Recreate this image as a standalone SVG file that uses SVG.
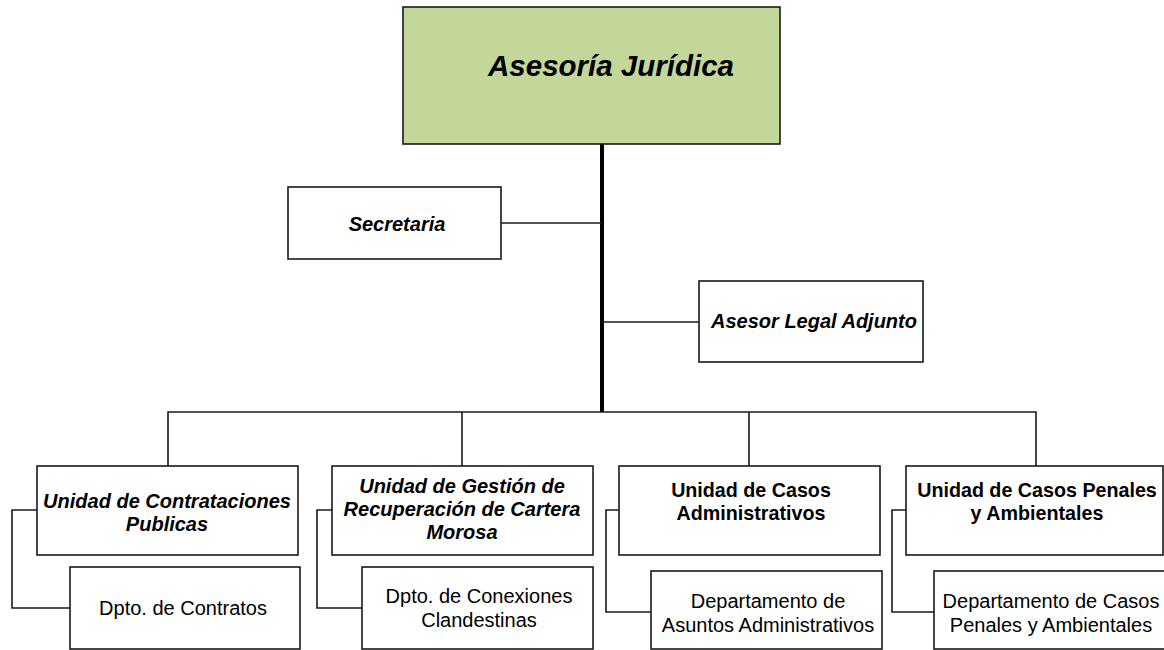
<svg xmlns="http://www.w3.org/2000/svg" width="1164" height="650" viewBox="0 0 1164 650">
<style>
.box{fill:#fff;stroke:#1a1a1a;stroke-width:1.6}
.top{fill:#c4d79b;stroke:#1a1a1a;stroke-width:1.6}
.ln{fill:none;stroke:#1a1a1a;stroke-width:1.6}
text{font-family:"Liberation Sans",Arial,sans-serif;fill:#000;text-anchor:middle}
.bi{font-weight:bold;font-style:italic;font-size:20px}
.b{font-weight:bold;font-size:19.7px}
.r{font-size:20px}
</style>
<rect width="1164" height="650" fill="#fff"/>
<g id="connectors">
<line x1="602" y1="144" x2="602" y2="412" stroke="#000" stroke-width="4"/>
<line class="ln" x1="501" y1="223" x2="602" y2="223"/>
<line class="ln" x1="602" y1="322" x2="699" y2="322"/>
<polyline class="ln" points="168,466 168,412 1036,412 1036,466"/>
<line class="ln" x1="462" y1="412" x2="462" y2="466"/>
<line class="ln" x1="749" y1="412" x2="749" y2="466"/>
<polyline class="ln" points="37,510 12,510 12,608 70,608"/>
<polyline class="ln" points="332,510 317,510 317,608 362,608"/>
<polyline class="ln" points="619,510 606,510 606,612 651,612"/>
<polyline class="ln" points="906,510 892,510 892,612 934,612"/>
</g>
<g id="asesoria">
<rect class="top" x="403" y="7" width="377" height="137"/>
<text class="bi" x="611" y="76" style="font-size:29.5px">Asesoría Jurídica</text>
</g>
<g id="secretaria">
<rect class="box" x="288" y="187" width="213" height="72"/>
<text class="bi" x="397" y="231">Secretaria</text>
</g>
<g id="asesor-legal">
<rect class="box" x="699" y="281" width="224" height="81"/>
<text class="bi" x="814" y="328">Asesor Legal Adjunto</text>
</g>
<g id="u-contrataciones">
<rect class="box" x="37" y="466" width="261" height="89"/>
<text class="bi" x="167" y="508">Unidad de Contrataciones</text>
<text class="bi" x="167" y="531">Publicas</text>
</g>
<g id="u-gestion">
<rect class="box" x="332" y="466" width="261" height="89"/>
<text class="bi" x="462" y="493">Unidad de Gestión de</text>
<text class="bi" x="462" y="516">Recuperación de Cartera</text>
<text class="bi" x="462" y="539">Morosa</text>
</g>
<g id="u-administrativos">
<rect class="box" x="619" y="466" width="261" height="89"/>
<text class="b" x="751" y="497">Unidad de Casos</text>
<text class="b" x="751" y="520">Administrativos</text>
</g>
<g id="u-penales">
<rect class="box" x="906" y="466" width="257" height="89"/>
<text class="b" x="1037" y="497">Unidad de Casos Penales</text>
<text class="b" x="1037" y="520">y Ambientales</text>
</g>
<g id="d-contratos">
<rect class="box" x="70" y="567" width="230" height="82"/>
<text class="r" x="183" y="615">Dpto. de Contratos</text>
</g>
<g id="d-conexiones">
<rect class="box" x="362" y="567" width="231" height="82"/>
<text class="r" x="479" y="603">Dpto. de Conexiones</text>
<text class="r" x="479" y="627">Clandestinas</text>
</g>
<g id="d-asuntos">
<rect class="box" x="651" y="571" width="231" height="78"/>
<text class="r" x="768" y="608">Departamento de</text>
<text class="r" x="768" y="632">Asuntos Administrativos</text>
</g>
<g id="d-penales">
<rect class="box" x="934" y="571" width="240" height="78"/>
<text class="r" x="1051" y="608">Departamento de Casos</text>
<text class="r" x="1051" y="632">Penales y Ambientales</text>
</g>
</svg>
